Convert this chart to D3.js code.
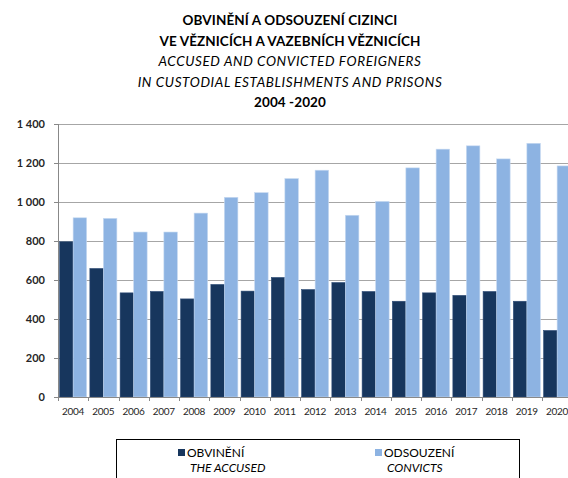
<!DOCTYPE html>
<html><head><meta charset="utf-8">
<script src="https://cdn.jsdelivr.net/npm/d3@7"></script>
<style>body{margin:0;background:#fff}svg{display:block}</style>
</head><body>
<script>
const years = ["2004","2005","2006","2007","2008","2009","2010","2011","2012","2013","2014","2015","2016","2017","2018","2019","2020"];
const accused = [796,659,534,541,503,577,543,613,551,587,541,491,534,521,541,491,341];
const convicts = [919,916,846,846,943,1024,1048,1120,1163,932,1003,1175,1271,1288,1221,1301,1185];
const yTicks = [0,200,400,600,800,1000,1200,1400];
const titleLines = [
  {t:"OBVINĚNÍ A ODSOUZENÍ CIZINCI", b:true, i:false},
  {t:"VE VĚZNICÍCH A VAZEBNÍCH VĚZNICÍCH", b:true, i:false},
  {t:"ACCUSED AND CONVICTED FOREIGNERS", b:false, i:true},
  {t:"IN CUSTODIAL ESTABLISHMENTS AND PRISONS", b:false, i:true},
  {t:"2004 -2020", b:true, i:false}
];
const seriesNames = [["OBVINĚNÍ","THE ACCUSED"],["ODSOUZENÍ","CONVICTS"]];
const colors = ["#17365d","#8db3e2"];

(function(){
const W=568,H=478;
const svg=d3.select("body").append("svg").attr("width",W).attr("height",H).style("font-family","Lato, 'Open Sans', sans-serif");
const left=58, bandW=30.25, plotTop=124, plotBottom=397;
const x=d3.scaleBand().domain(years).range([left,left+bandW*years.length]).paddingInner(0).paddingOuter(0);
const y=d3.scaleLinear().domain([0,1400]).range([plotBottom,plotTop]);
const inner=d3.scaleBand().domain([0,1]).range([0,x.bandwidth()]).paddingInner(0.0).paddingOuter(0.12);

// title
svg.append("g").selectAll("text").data(titleLines).join("text")
  .attr("x",290).attr("y",(d,i)=>25+i*20.6).attr("text-anchor","middle")
  .attr("font-size",d=>d.i?13.5:13.5).attr("font-weight",d=>d.b?"bold":"normal").attr("font-style",d=>d.i?"italic":"normal")
  .attr("fill","#000").attr("letter-spacing",d=>d.i?"0.6":"0.1").text(d=>d.t);

// grid
svg.append("g").selectAll("line").data(yTicks).join("line")
  .attr("x1",left).attr("x2",W).attr("y1",d=>Math.round(y(d))+0.5).attr("y2",d=>Math.round(y(d))+0.5)
  .attr("stroke","#a6a6a6").attr("stroke-width",1);

// y labels
svg.append("g").selectAll("text").data(yTicks).join("text")
  .attr("x",45).attr("y",d=>y(d)+4).attr("text-anchor","end").attr("font-size",11).attr("font-weight","bold")
  .attr("fill","#262626").text(d=>d3.format(",")(d).replace(/,/g," "));

// bars
const g=svg.append("g");
[accused,convicts].forEach((arr,si)=>{
  g.selectAll(".b"+si).data(years).join("rect").attr("class","b"+si)
    .attr("x",d=>x(d)+inner(si)).attr("width",inner.bandwidth())
    .attr("y",(d,i)=>y(arr[i])).attr("height",(d,i)=>y(0)-y(arr[i]))
    .attr("fill",colors[si]).attr("stroke",si?"#c6d9f1":"#2b4a75").attr("stroke-width",0.6);
});

// axes lines
svg.append("line").attr("x1",left+0.5).attr("x2",left+0.5).attr("y1",plotTop).attr("y2",plotBottom).attr("stroke","#888");
svg.append("line").attr("x1",left).attr("x2",W).attr("y1",plotBottom+0.5).attr("y2",plotBottom+0.5).attr("stroke","#888");
svg.append("g").selectAll("line").data(yTicks).join("line")
  .attr("x1",left-4).attr("x2",left).attr("y1",d=>Math.round(y(d))+0.5).attr("y2",d=>Math.round(y(d))+0.5).attr("stroke","#888");
svg.append("g").selectAll("line").data(years.concat(["end"])).join("line")
  .attr("x1",(d,i)=>Math.round(left+i*bandW)+0.5).attr("x2",(d,i)=>Math.round(left+i*bandW)+0.5)
  .attr("y1",plotBottom).attr("y2",plotBottom+4).attr("stroke","#888");
svg.append("g").selectAll("text").data(years).join("text")
  .attr("x",d=>x(d)+x.bandwidth()/2).attr("y",415).attr("text-anchor","middle").attr("font-size",10)
  .attr("fill","#262626").attr("letter-spacing","-0.3").text(d=>d);

// legend
svg.append("rect").attr("x",116.5).attr("y",439.5).attr("width",403).attr("height",50).attr("fill","none").attr("stroke","#000").attr("stroke-width",1);
const lx=[178,375];
seriesNames.forEach((n,i)=>{
  svg.append("rect").attr("x",lx[i]).attr("y",449).attr("width",7).attr("height",7).attr("fill",colors[i]);
  svg.append("text").attr("x",lx[i]+9).attr("y",457).attr("font-size",12).attr("fill","#000").text(n[0]);
  svg.append("text").attr("x",lx[i]+12).attr("y",472).attr("font-size",12).attr("font-style","italic").attr("fill","#000").text(n[1]);
});
})();
</script>
</body></html>
